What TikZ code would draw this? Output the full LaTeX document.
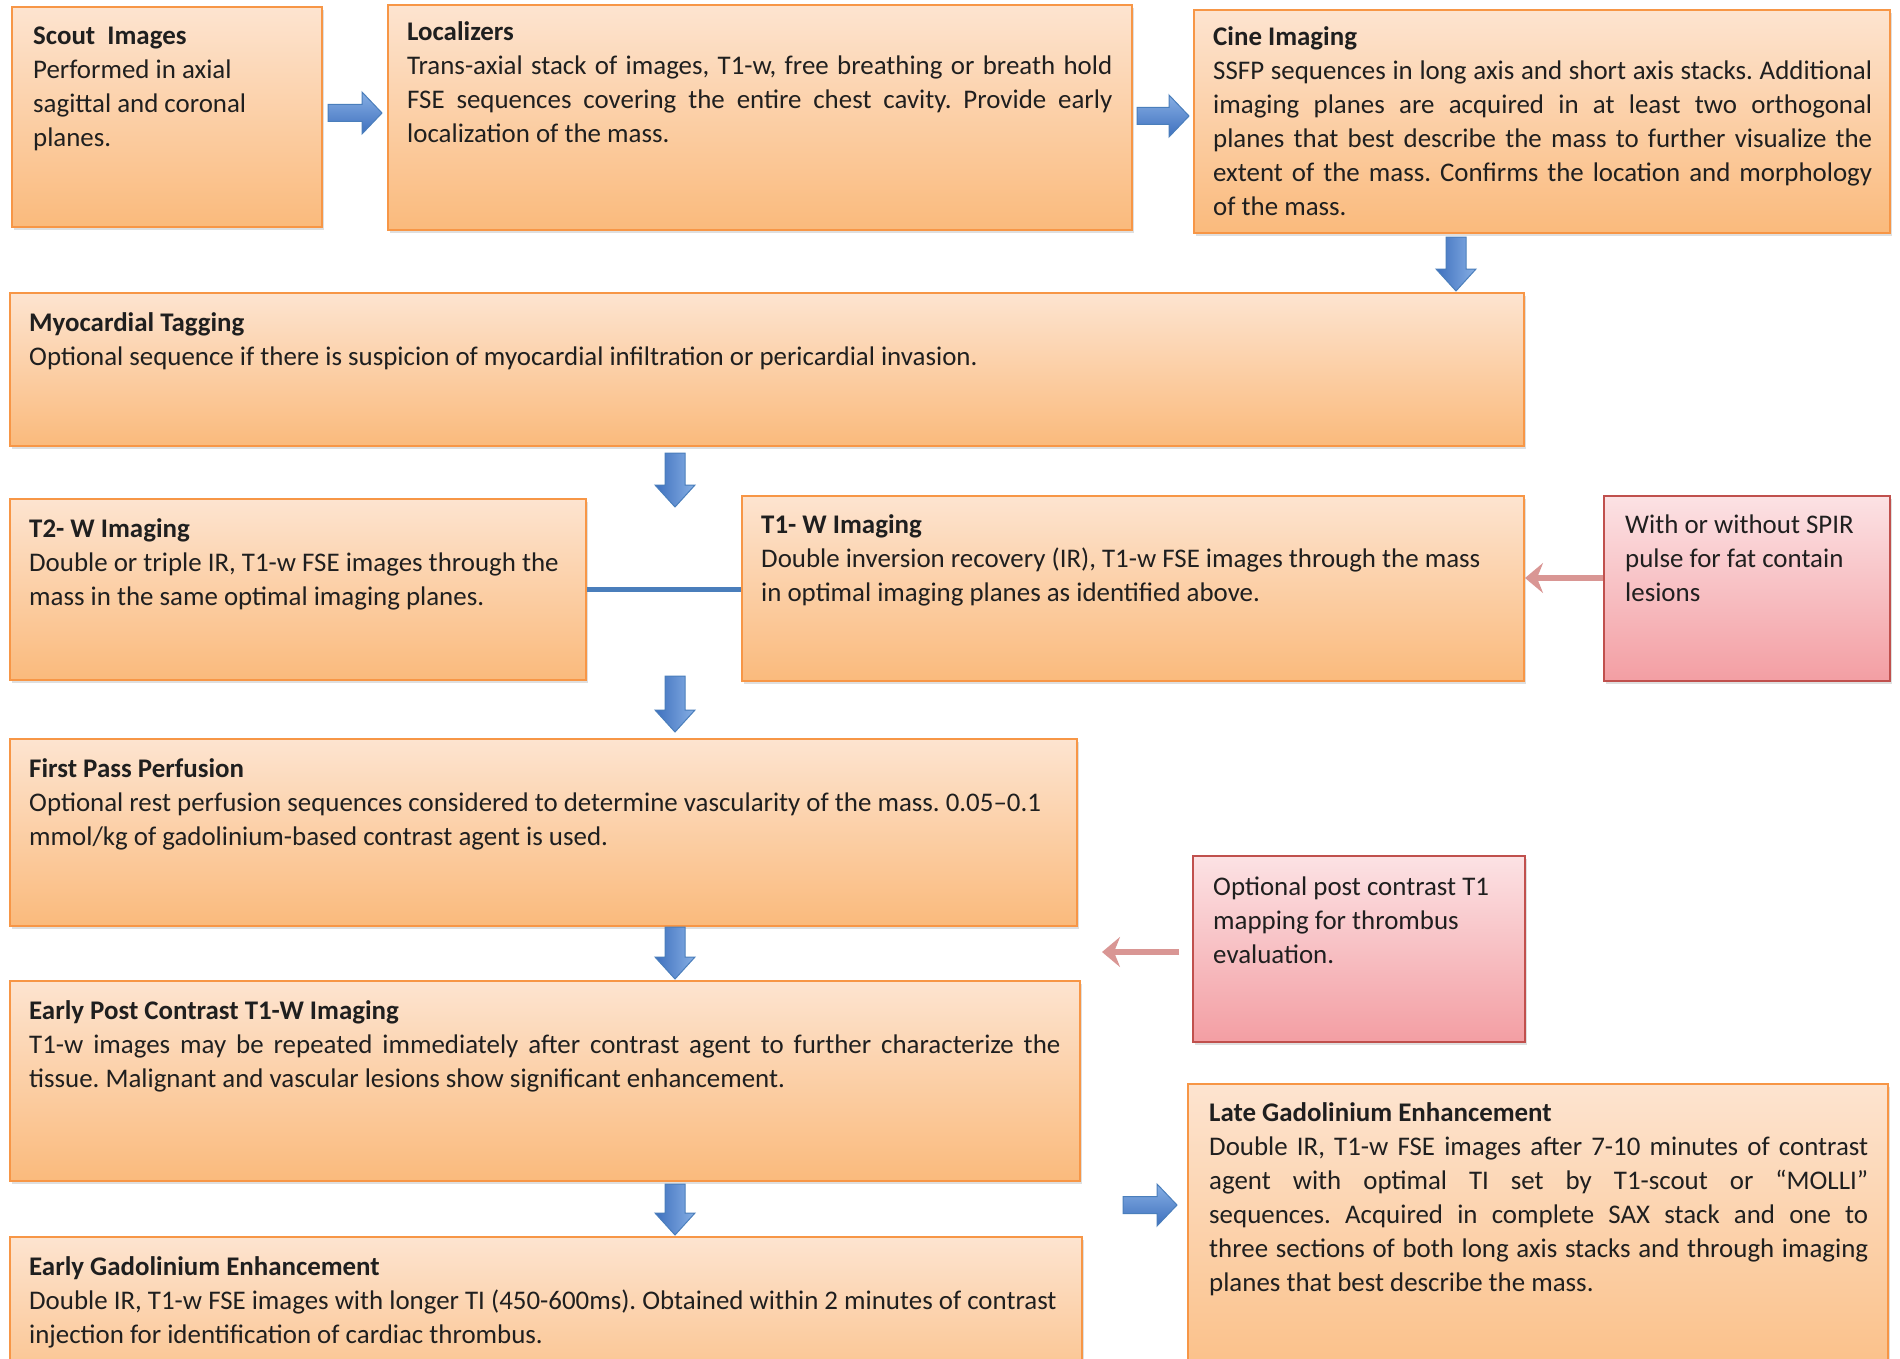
\documentclass[tikz,border=0pt]{standalone}
\usepackage{fontspec}
\setmainfont{Carlito}
\usetikzlibrary{shadows,fit,arrows.meta,calc}
\definecolor{otop}{RGB}{253,228,208}
\definecolor{obot}{RGB}{250,186,124}
\definecolor{oborder}{RGB}{247,150,70}
\definecolor{ptop}{RGB}{252,226,228}
\definecolor{pbot}{RGB}{243,158,163}
\definecolor{pborder}{RGB}{192,80,77}
\definecolor{blight}{RGB}{135,175,228}
\definecolor{bdark}{RGB}{62,112,190}
\definecolor{bline}{RGB}{74,126,187}
\definecolor{parrow}{RGB}{217,150,148}
\frenchspacing
\newcommand\jl[1]{\makebox[\linewidth][s]{#1}}
\tikzset{
  obox/.style={draw=oborder, line width=2pt, top color=otop, bottom color=obot, inner sep=0pt,
    drop shadow={shadow xshift=1.5pt, shadow yshift=-3pt, opacity=0.25}},
  pbox/.style={draw=pborder, line width=2pt, top color=ptop, bottom color=pbot, inner sep=0pt,
    drop shadow={shadow xshift=1.5pt, shadow yshift=-3pt, opacity=0.25}},
  txt/.style={anchor=base west, inner sep=0pt, font=\fontsize{26.9}{34}\selectfont\frenchspacing, text=black!88},
  barrow/.style={draw=bline, line width=1pt},
  bluelink/.style={draw=bline, line width=4.5pt},
  pinkarrow/.style={draw=parrow, line width=5.5pt, -{Stealth[length=18pt,width=30pt,inset=6pt]}},
}
\newcommand\rarrow[3]{%
  \path[barrow, top color=blight, bottom color=bdark] (#1,#3-8.5) -- (#2-20,#3-8.5) -- (#2-20,#3-21) -- (#2,#3) -- (#2-20,#3+21) -- (#2-20,#3+8.5) -- (#1,#3+8.5) -- cycle;}
\newcommand\darrow[3]{%
  \path[barrow, left color=bdark, right color=blight] (#1-10,#2) -- (#1+10,#2) -- (#1+10,#3-22) -- (#1+20,#3-22) -- (#1,#3) -- (#1-20,#3-22) -- (#1-10,#3-22) -- cycle;}
\begin{document}
\begin{tikzpicture}[x=1pt,y=-1pt]
\useasboundingbox (0,0) rectangle (1900,1359);
\clip (0,0) rectangle (1900,1359);
% boxes
\node[obox, fit={(12,7) (322,227)}] (scout) {};
\node[obox, fit={(388,5) (1132,230)}] (loc) {};
\node[obox, fit={(1194,10) (1890,233)}] (cine) {};
\node[obox, fit={(10,293) (1524,446)}] (myo) {};
\node[obox, fit={(10,499) (586,680)}] (t2) {};
\node[obox, fit={(742,496) (1524,681)}] (t1) {};
\node[pbox, fit={(1604,496) (1890,681)}] (spir) {};
\node[obox, fit={(10,739) (1077,926)}] (first) {};
\node[pbox, fit={(1193,856) (1525,1042)}] (opt) {};
\node[obox, fit={(10,981) (1080,1181)}] (epc) {};
\node[obox, fit={(10,1237) (1082,1420)}] (egd) {};
\node[obox, fit={(1188,1084) (1888,1420)}] (lge) {};
% texts
\node[txt] (scoutT) at (33,45) {\parbox[t]{290pt}{\textbf{Scout~ Images}\\Performed in axial\\sagittal and coronal\\planes.}};
\node[txt] (locT) at (407,41) {\parbox[t]{705pt}{\textbf{Localizers}\\\jl{Trans-axial stack of images, T1-w, free breathing or breath hold}\\\jl{FSE sequences covering the entire chest cavity. Provide early}\\localization of the mass.}};
\node[txt] (cineT) at (1213,46) {\parbox[t]{659pt}{\textbf{Cine Imaging}\\\jl{SSFP sequences in long axis and short axis stacks. Additional}\\\jl{imaging planes are acquired in at least two orthogonal}\\\jl{planes that best describe the mass to further visualize the}\\\jl{extent of the mass. Confirms the location and morphology}\\of the mass.}};
\node[txt] (myoT) at (29,331) {\parbox[t]{1480pt}{\textbf{Myocardial Tagging}\\Optional sequence if there is suspicion of myocardial infiltration or pericardial invasion.}};
\node[txt] (t2T) at (29,537) {\parbox[t]{550pt}{\textbf{T2- W Imaging}\\Double or triple IR, T1-w FSE images through the\\mass in the same optimal imaging planes.}};
\node[txt] (t1T) at (761,533) {\parbox[t]{750pt}{\textbf{T1- W Imaging}\\Double inversion recovery (IR), T1-w FSE images through the mass\\in optimal imaging planes as identified above.}};
\node[txt] (spirT) at (1625,533) {\parbox[t]{260pt}{With or without SPIR\\pulse for fat contain\\lesions}};
\node[txt] (firstT) at (29,777) {\parbox[t]{1040pt}{\textbf{First Pass Perfusion}\\Optional rest perfusion sequences considered to determine vascularity of the mass. 0.05–0.1\\mmol/kg of gadolinium-based contrast agent is used.}};
\node[txt] (optT) at (1213,895) {\parbox[t]{300pt}{Optional post contrast T1\\mapping for thrombus\\evaluation.}};
\node[txt] (epcT) at (29,1019) {\parbox[t]{1031pt}{\textbf{Early Post Contrast T1-W Imaging}\\\jl{T1-w images may be repeated immediately after contrast agent to further characterize the}\\tissue. Malignant and vascular lesions show significant enhancement.}};
\node[txt] (egdT) at (29,1275) {\parbox[t]{1045pt}{\textbf{Early Gadolinium Enhancement}\\Double IR, T1-w FSE images with longer TI (450-600ms). Obtained within 2 minutes of contrast\\injection for identification of cardiac thrombus.}};
\node[txt] (lgeT) at (1209,1121) {\parbox[t]{659pt}{\textbf{Late Gadolinium Enhancement}\\\jl{Double IR, T1-w FSE images after 7-10 minutes of contrast}\\\jl{agent with optimal TI set by T1-scout or “MOLLI”}\\\jl{sequences. Acquired in complete SAX stack and one to}\\\jl{three sections of both long axis stacks and through imaging}\\planes that best describe the mass.}};
% block arrows
\rarrow{328}{382}{113}
\rarrow{1137}{1189}{116}
\rarrow{1123}{1177}{1205}
\darrow{1456}{237}{291}
\darrow{675}{453}{507}
\darrow{675}{676}{732}
\darrow{675}{927}{979}
\darrow{675}{1184}{1235}
% connectors
\draw[bluelink] (t2.east) -- (t2.east -| t1.west);
\draw[pinkarrow] ([yshift=10.5pt]spir.west) -- ([yshift=10.5pt]spir.west -| t1.east);
\coordinate (optend) at (1102,952);
\draw[pinkarrow] ([xshift=-13pt,yshift=-3pt]opt.west) -- (optend);
\end{tikzpicture}
\end{document}
